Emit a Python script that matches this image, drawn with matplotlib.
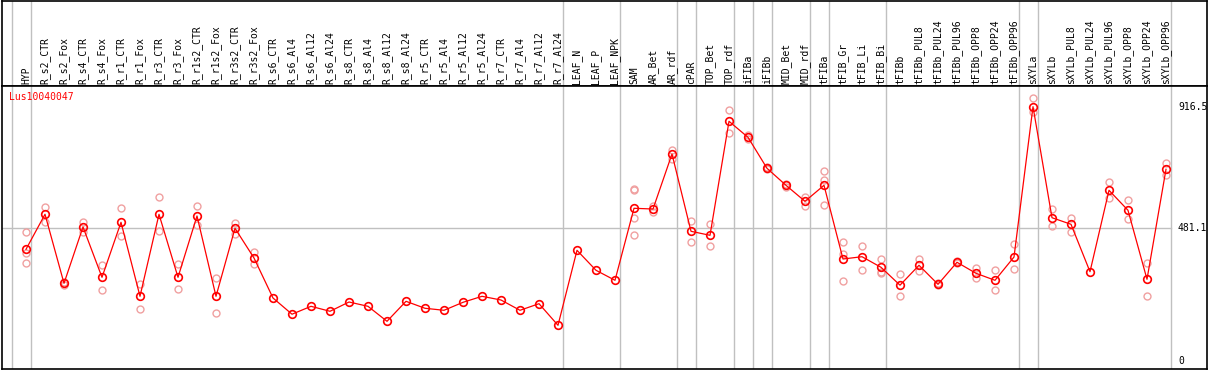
"""Expression profile of Lus10040047 across tissues, drawn as an eFP-style strip."""

import matplotlib
matplotlib.use("Agg")
import matplotlib.pyplot as plt

W, H = 1209, 370

labels = [
    "HYP", "R_s2_CTR", "R_s2_Fox", "R_s4_CTR", "R_s4_Fox", "R_r1_CTR", "R_r1_Fox",
    "R_r3_CTR", "R_r3_Fox", "R_r1s2_CTR", "R_r1s2_Fox", "R_r3s2_CTR", "R_r3s2_Fox",
    "R_s6_CTR", "R_s6_Al4", "R_s6_Al12", "R_s6_Al24", "R_s8_CTR", "R_s8_Al4",
    "R_s8_Al12", "R_s8_Al24", "R_r5_CTR", "R_r5_Al4", "R_r5_Al12", "R_r5_Al24",
    "R_r7_CTR", "R_r7_Al4", "R_r7_Al12", "R_r7_Al24", "LEAF_N", "LEAF_P", "LEAF_NPK",
    "SAM", "AR_Bet", "AR_rdf", "cPAR", "TOP_Bet", "TOP_rdf", "iFIBa", "iFIBb",
    "MID_Bet", "MID_rdf", "tFIBa", "tFIB_Gr", "tFIB_Li", "tFIB_Bi", "tFIBb",
    "tFIBb_PUL8", "tFIBb_PUL24", "tFIBb_PUL96", "tFIBb_OPP8", "tFIBb_OPP24",
    "tFIBb_OPP96", "sXYLa", "sXYLb", "sXYLb_PUL8", "sXYLb_PUL24", "sXYLb_PUL96",
    "sXYLb_OPP8", "sXYLb_OPP24", "sXYLb_OPP96",
]

means = [
    403.3, 529.3, 281.0, 483.6, 302.6, 500.5, 234.2, 529.3, 302.6, 523.2, 234.2,
    478.9, 372.0, 228.1, 169.8, 198.2, 180.3, 213.7, 198.2, 144.3, 216.2, 191.1,
    183.9, 212.6, 234.2, 220.9, 183.9, 207.6, 129.9, 399.7, 327.8, 291.8, 550.9,
    548.3, 746.2, 468.1, 453.7, 863.9, 806.3, 694.8, 633.6, 576.0, 633.6, 368.4,
    376.7, 338.6, 274.2, 345.8, 277.4, 356.6, 317.0, 291.8, 375.6, 916.5, 517.0,
    493.3, 322.7, 615.6, 543.7, 295.4, 691.2,
]

replicates = [
    [464.5, 391.8, 353.0], [554.4, 500.5], [287.0, 276.0], [500.5, 466.7],
    [345.8, 256.9], [550.9, 450.1], [278.5, 187.5], [590.4, 470.3], [349.4, 260.5],
    [558.0, 490.8], [299.0, 173.1], [499.0, 457.3], [393.6, 349.4],
    [], [], [], [], [], [], [], [], [], [], [], [], [], [], [], [], [], [], [],
    [621.4, 615.6, 514.9, 453.7], [560.2, 538.6], [760.6, 727.2], [504.1, 428.5],
    [493.3, 414.1], [903.5, 820.7], [814.6, 799.1], [699.5, 690.5], [637.2, 628.6],
    [592.6, 558.0], [684.0, 651.6, 561.6], [428.5, 385.3, 289.3], [415.2, 327.8],
    [368.4, 320.6, 317.0], [313.4, 235.3], [368.4, 324.2], [283.2, 273.8],
    [361.2, 353.0], [335.0, 301.2], [327.8, 255.8], [422.4, 331.4], [946.6, 898.4],
    [547.3, 486.1], [517.0, 466.7], [], [644.4, 586.8], [579.6, 511.3],
    [353.0, 234.2], [713.8, 669.6],
]

# last column index of each tissue group (-1 = left edge line)
group_ends = [-1, 0, 28, 31, 34, 35, 37, 38, 39, 41, 42, 45, 52, 53, 60]

axis_marks = [916.5, 481.1, 0]
gene = "Lus10040047"

MONO = "DejaVu Sans Mono"
GRID = "#c0c0c0"
PALE = "#f0a0a0"


def px_x(x):
    # pixel column -> data index (column i sits at 26 + 19*i)
    return (x - 26) / 19.0


def px_y(y):
    # pixel row -> expression value
    return (361.4 - y) * 3.598


def main():
    fig = plt.figure(figsize=(W / 100, H / 100), dpi=100)
    head = fig.add_axes([1.5 / W, (H - 86) / H, 1205 / W, (86 - 0.5) / H])
    ax = fig.add_axes([1.5 / W, 1.5 / H, 1205 / W, (H - 86 - 1.5) / H])

    xlim = (px_x(1.5), px_x(1206.5))
    for a in (head, ax):
        a.set_xlim(*xlim)
        a.set_xticks([])
        a.set_yticks([])
        for s in a.spines.values():
            s.set_color("black")
            s.set_linewidth(1.2)
        for g in group_ends:
            a.axvline(g + 5 / 19, color=GRID, lw=1, zorder=0)
    head.set_ylim(0, 1)
    ax.set_ylim(px_y(368.5), px_y(86))

    for i, name in enumerate(labels):
        head.text(i, 2.5 / 86, name, rotation=90, ha="center", va="bottom",
                  fontsize=7, family=MONO)

    ax.plot([xlim[0], 60 + 5 / 19], [481.1, 481.1], color=GRID, lw=1, zorder=0)

    idx = list(range(len(labels)))
    rx = [i for i, r in enumerate(replicates) for _ in r]
    ry = [v for r in replicates for v in r]
    ax.plot(rx, ry, ls="none", marker="o", ms=5, mfc="none", mec=PALE, mew=1.0, zorder=2)
    ax.plot(idx, means, color="red", lw=0.9, marker="o", ms=5.5, mfc="none",
            mec="red", mew=1.2, zorder=3)

    for v in axis_marks:
        ax.text(px_x(1178), v, f"{v:g}", ha="left", va="center", fontsize=7, family=MONO)
    ax.text(px_x(9), px_y(97), gene, color="red", ha="left", va="center",
            fontsize=7, family=MONO)

    fig.savefig("out.png", dpi=100)
    plt.close(fig)


if __name__ == "__main__":
    main()
